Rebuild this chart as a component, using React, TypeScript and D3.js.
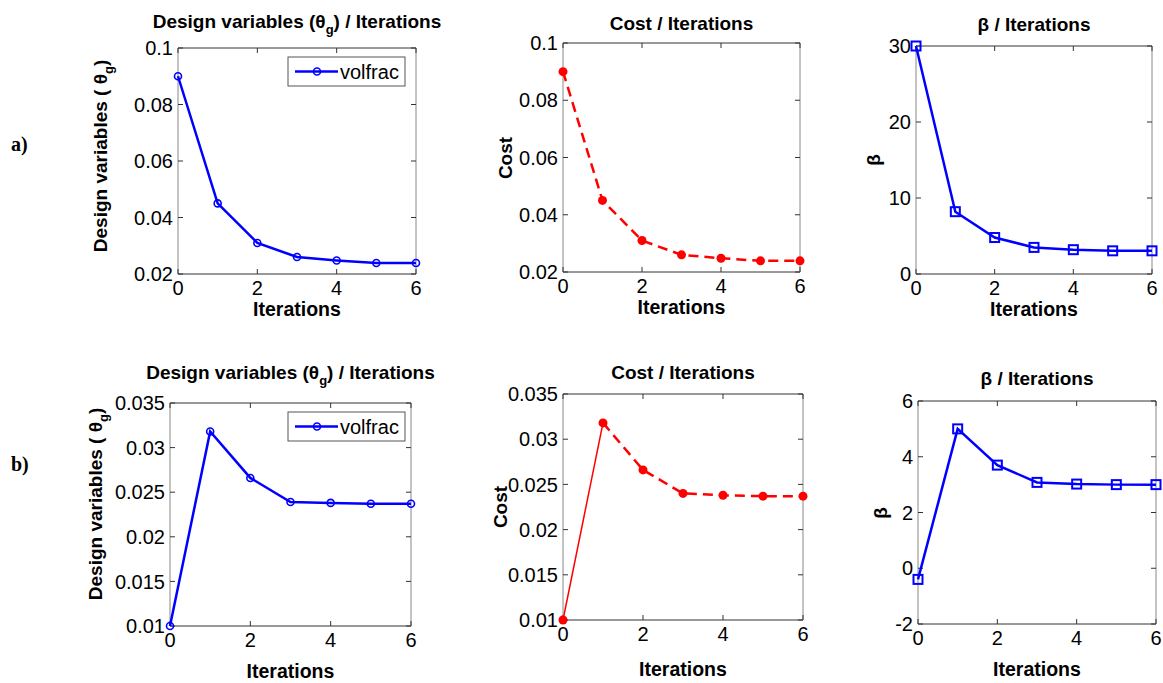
import * as d3 from "d3";
import React from "react";

// iterations shared by all six panels
const iterations = [0, 1, 2, 3, 4, 5, 6];
const xTicks = [0, 2, 4, 6];

// case a)
const volfracA = [0.09, 0.045, 0.031, 0.026, 0.0248, 0.0239, 0.0239];
const costA = [0.09, 0.045, 0.031, 0.026, 0.0248, 0.0239, 0.0239];
const betaA = [30, 8.2, 4.8, 3.5, 3.2, 3.05, 3.05];

// case b)
const volfracB = [0.01, 0.0318, 0.0266, 0.0239, 0.0238, 0.0237, 0.0237];
const costB = [0.01, 0.0318, 0.0266, 0.024, 0.0238, 0.0237, 0.0237];
const betaB = [-0.4, 5.0, 3.7, 3.08, 3.02, 3.0, 3.0];

// y tick labels
const yTicksDesignA = [0.02, 0.04, 0.06, 0.08, 0.1];
const yTicksBetaA = [0, 10, 20, 30];
const yTicksDesignB = [0.01, 0.015, 0.02, 0.025, 0.03, 0.035];
const yTicksBetaB = [-2, 0, 2, 4, 6];

const BLUE = "#0000ff";
const RED = "#ff0000";
const FONT = "'Liberation Sans', Arial, sans-serif";
const TICK_FS = 20;

type Marker = "circle" | "dot" | "square";

interface Panel {
  id: string;
  box: [number, number, number, number]; // left, right, top, bottom
  domain: [number, number];
  ticks: number[];
  values: number[];
  marker: Marker;
  color: string;
  dashed: boolean;
  thinFirst?: boolean;
  title: "design" | "cost" | "beta";
  titleY: number;
  yLabel: [number, number];
  xLabelY: number;
  legend?: boolean;
}

const panels: Panel[] = [
  { id: "a1", box: [178, 416, 48, 274], domain: [0.02, 0.1], ticks: yTicksDesignA, values: volfracA, marker: "circle", color: BLUE, dashed: false, title: "design", titleY: 28, yLabel: [107, 156], xLabelY: 316, legend: true },
  { id: "a2", box: [563, 800, 43, 272], domain: [0.02, 0.1], ticks: yTicksDesignA, values: costA, marker: "dot", color: RED, dashed: true, title: "cost", titleY: 30, yLabel: [512, 158], xLabelY: 314 },
  { id: "a3", box: [916, 1152, 46, 274], domain: [0, 30], ticks: yTicksBetaA, values: betaA, marker: "square", color: BLUE, dashed: false, title: "beta", titleY: 31, yLabel: [880, 160], xLabelY: 316 },
  { id: "b1", box: [170, 411, 403, 626], domain: [0.01, 0.035], ticks: yTicksDesignB, values: volfracB, marker: "circle", color: BLUE, dashed: false, title: "design", titleY: 379, yLabel: [102, 504], xLabelY: 678, legend: true },
  { id: "b2", box: [563, 803, 394, 620], domain: [0.01, 0.035], ticks: yTicksDesignB, values: costB, marker: "dot", color: RED, dashed: true, thinFirst: true, title: "cost", titleY: 379, yLabel: [507, 507], xLabelY: 676 },
  { id: "b3", box: [918, 1156, 401, 624], domain: [-2, 6], ticks: yTicksBetaB, values: betaB, marker: "square", color: BLUE, dashed: false, title: "beta", titleY: 385, yLabel: [887, 513], xLabelY: 676 },
];

const drawMarker = (m: Marker, x: number, y: number, color: string, key: string) => {
  if (m === "circle")
    return <circle key={key} cx={x} cy={y} r={3.5} fill="none" stroke={color} strokeWidth={1.6} />;
  if (m === "dot") return <circle key={key} cx={x} cy={y} r={4.5} fill={color} />;
  return <rect key={key} x={x - 4.5} y={y - 4.5} width={9} height={9} fill="none" stroke={color} strokeWidth={2} />;
};

const Title = ({ kind, x, y }: { kind: Panel["title"]; x: number; y: number }) => {
  if (kind === "design")
    return (
      <text x={x} y={y} textAnchor="middle" fontWeight="bold" fontSize={19}>
        Design variables (θ<tspan fontSize={13} dy={6}>g</tspan>
        <tspan dy={-6}>) / Iterations</tspan>
      </text>
    );
  return (
    <text x={x} y={y} textAnchor="middle" fontWeight="bold" fontSize={19}>
      {kind === "cost" ? "Cost / Iterations" : "β / Iterations"}
    </text>
  );
};

const YLabel = ({ kind, x, y }: { kind: Panel["title"]; x: number; y: number }) => (
  <text transform={`translate(${x},${y}) rotate(-90)`} textAnchor="middle" fontWeight="bold" fontSize={19}>
    {kind === "design" ? (
      <>
        Design variables ( θ<tspan fontSize={13} dy={6}>g</tspan>
        <tspan dy={-6}>)</tspan>
      </>
    ) : kind === "cost" ? (
      "Cost"
    ) : (
      "β"
    )}
  </text>
);

const PanelView = ({ p }: { p: Panel }) => {
  const [l, r, t, b] = p.box;
  const x = d3.scaleLinear().domain([0, 6]).range([l, r]);
  const y = d3.scaleLinear().domain(p.domain).range([b, t]);
  const line = d3
    .line<number>()
    .x((_, i) => x(iterations[i]))
    .y((d) => y(d));
  const cx = (l + r) / 2;
  const tick = 5;

  return (
    <g>
      {/* frame */}
      <line x1={l} x2={r} y1={t} y2={t} stroke="#333" strokeWidth={1} />
      <line x1={l} x2={r} y1={b} y2={b} stroke="#333" strokeWidth={1} />
      <line x1={l} x2={l} y1={t} y2={b} stroke="#888" strokeWidth={1} />
      <line x1={r} x2={r} y1={t} y2={b} stroke="#888" strokeWidth={1} />

      {/* x ticks */}
      {xTicks.map((v) => (
        <g key={`x${v}`}>
          <line x1={x(v)} x2={x(v)} y1={b} y2={b - tick} stroke="#333" />
          <line x1={x(v)} x2={x(v)} y1={t} y2={t + tick} stroke="#333" />
          <text x={x(v)} y={b + 21} textAnchor="middle" fontSize={TICK_FS}>
            {v}
          </text>
        </g>
      ))}

      {/* y ticks */}
      {p.ticks.map((v) => (
        <g key={`y${v}`}>
          <line x1={l} x2={l + tick} y1={y(v)} y2={y(v)} stroke="#333" />
          <line x1={r} x2={r - tick} y1={y(v)} y2={y(v)} stroke="#333" />
          <text x={l - 5} y={y(v)} dy="0.36em" textAnchor="end" fontSize={TICK_FS}>
            {String(v)}
          </text>
        </g>
      ))}

      {/* series */}
      {p.thinFirst ? (
        <>
          <path d={line(p.values.slice(0, 2)) ?? ""} fill="none" stroke={p.color} strokeWidth={1.5} />
          <path
            d={d3
              .line<number>()
              .x((_, i) => x(iterations[i + 1]))
              .y((d) => y(d))(p.values.slice(1)) ?? ""}
            fill="none"
            stroke={p.color}
            strokeWidth={2.5}
            strokeDasharray="10,6"
          />
        </>
      ) : (
        <path
          d={line(p.values) ?? ""}
          fill="none"
          stroke={p.color}
          strokeWidth={2.5}
          strokeDasharray={p.dashed ? "10,6" : undefined}
        />
      )}
      {p.values.map((v, i) => drawMarker(p.marker, x(iterations[i]), y(v), p.color, `m${i}`))}

      {/* legend */}
      {p.legend && (
        <g>
          <rect x={288} y={t + 9} width={117} height={29} fill="#fff" stroke="#555" strokeWidth={1} />
          <line x1={295} x2={338} y1={t + 23.5} y2={t + 23.5} stroke={BLUE} strokeWidth={2.5} />
          {drawMarker("circle", 317, t + 23.5, BLUE, "lg")}
          <text x={340} y={t + 30.5} fontSize={TICK_FS}>
            volfrac
          </text>
        </g>
      )}

      <Title kind={p.title} x={cx} y={p.titleY} />
      <YLabel kind={p.title} x={p.yLabel[0]} y={p.yLabel[1]} />
      <text x={cx} y={p.xLabelY} textAnchor="middle" fontWeight="bold" fontSize={19.5}>
        Iterations
      </text>
    </g>
  );
};

const App = () => (
  <svg
    width={1163}
    height={683}
    style={{ position: "absolute", left: 0, top: 0, background: "#fff" }}
    fontFamily={FONT}
  >
    <rect width={1163} height={683} fill="#fff" />
    <text x={11} y={151} fontFamily="'Liberation Serif', 'Times New Roman', serif" fontWeight="bold" fontSize={20}>
      a)
    </text>
    <text x={11} y={471} fontFamily="'Liberation Serif', 'Times New Roman', serif" fontWeight="bold" fontSize={20}>
      b)
    </text>
    {panels.map((p) => (
      <PanelView key={p.id} p={p} />
    ))}
  </svg>
);

export default App;
